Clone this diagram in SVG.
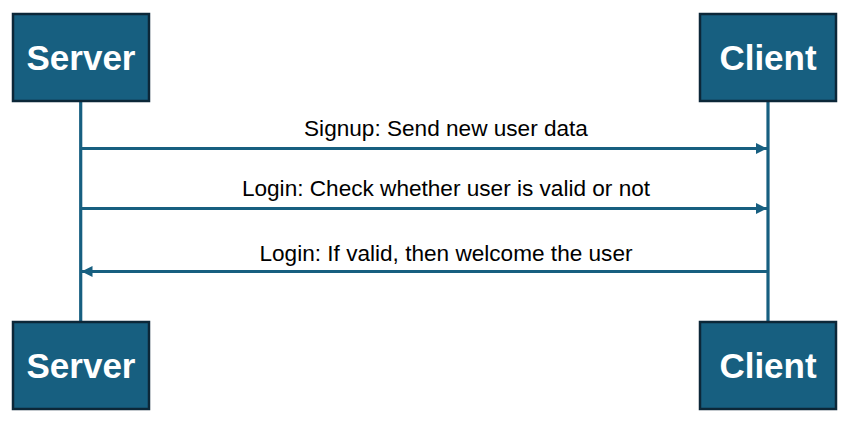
<svg xmlns="http://www.w3.org/2000/svg" width="847" height="425" viewBox="0 0 847 425">
<style>
.box{fill:#175f80;stroke:#0c2738;stroke-width:2.5}
.title{font-family:"Liberation Sans",Arial,sans-serif;font-weight:bold;font-size:35px;fill:#ffffff;text-anchor:middle}
.lbl{font-family:"Liberation Sans",Arial,sans-serif;font-size:22.6px;fill:#000000;text-anchor:middle}
.life{stroke:#175f80;stroke-width:3.2;fill:none}
.msg{stroke:#175f80;stroke-width:3.2;fill:none}
</style>
<defs>
<marker id="ah" markerWidth="11" markerHeight="11" viewBox="0 0 11 11" refX="11" refY="5.5" orient="auto" markerUnits="userSpaceOnUse">
<path d="M0,0 L11,5.5 L0,11 Z" fill="#175f80"/>
</marker>
</defs>
<rect width="847" height="425" fill="#ffffff"/>
<g id="connectors">
<line class="life" x1="80.7" y1="101" x2="80.7" y2="322"/>
<line class="life" x1="768" y1="101" x2="768" y2="322"/>
<line class="msg" x1="80.7" y1="148.5" x2="767" y2="148.5" marker-end="url(#ah)"/>
<line class="msg" x1="80.7" y1="208.5" x2="767" y2="208.5" marker-end="url(#ah)"/>
<line class="msg" x1="768" y1="271.5" x2="81.5" y2="271.5" marker-end="url(#ah)"/>
<text class="lbl" x="446" y="135.5">Signup: Send new user data</text>
<text class="lbl" x="446" y="196">Login: Check whether user is valid or not</text>
<text class="lbl" x="446" y="260.5">Login: If valid, then welcome the user</text>
</g>
<g id="server-top">
<rect class="box" x="13" y="14" width="136" height="87"/>
<text class="title" x="81" y="70">Server</text>
</g>
<g id="client-top">
<rect class="box" x="700" y="14" width="136" height="87"/>
<text class="title" x="768" y="70">Client</text>
</g>
<g id="server-bottom">
<rect class="box" x="13" y="322" width="136" height="87"/>
<text class="title" x="81" y="378">Server</text>
</g>
<g id="client-bottom">
<rect class="box" x="700" y="322" width="136" height="87"/>
<text class="title" x="768" y="378">Client</text>
</g>
</svg>
